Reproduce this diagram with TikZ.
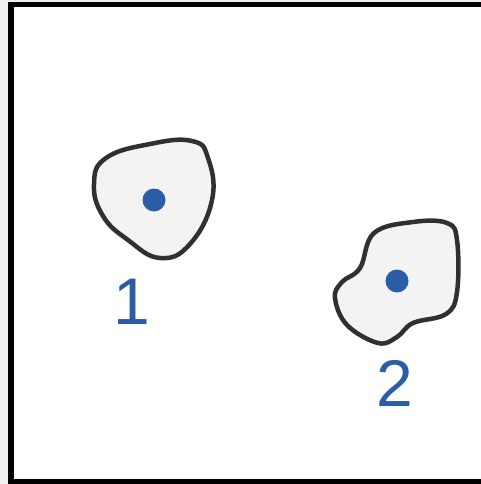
\documentclass[tikz,border=0pt]{standalone}
\usepackage{fontspec}
\setsansfont{Liberation Sans}
\usetikzlibrary{positioning}
\definecolor{myblue}{RGB}{42,92,168}
\definecolor{myrim}{RGB}{48,48,48}
\definecolor{mycell}{RGB}{243,243,243}
\definecolor{mypage}{RGB}{240,240,240}
\tikzset{
    cell/.style={
        draw=myrim,
        fill=mycell,
        line width=4.5pt,
        line join=round
    },
    nucleus/.style={
        circle,
        fill=myblue,
        minimum size=23pt,
        inner sep=0pt
    },
    tag/.style={
        text=myblue,
        font=\fontsize{66}{66}\selectfont\sffamily,
        inner sep=0pt
    },
    frame/.style={draw=black, line width=5.5pt, line join=miter}
}
\begin{document}
\begin{tikzpicture}[x=1pt,y=-1pt]
\useasboundingbox (0,0) rectangle (481,484);
\fill[mypage] (0,0) rectangle (481,484);
\fill[white] (10.8,4.3) rectangle (481,482);
\draw[frame] (481,4.3) -- (10.8,4.3) -- (10.8,482) -- (481,482);

% cell 1
\draw[cell] plot[smooth cycle, tension=0.75] coordinates {
    (94,184) (106,158) (150,144) (192,141) (208,158) (212,200)
    (190,244) (160,258) (128,240) (103,216)};
\node[nucleus] (n1) at (154,200) {};
\node[tag] (t1) at (132,302) {1};

% cell 2
\draw[cell] plot[smooth cycle, tension=0.65] coordinates {
    (374,233) (413,222) (447,223) (457,240) (457,292) (446,314)
    (413,323) (397,337) (378,343) (347,325) (335,298) (342,282)
    (360,268)};
\node[nucleus] (n2) at (397,281) {};
\node[tag] (t2) at (395,383) {2};
\end{tikzpicture}
\end{document}
